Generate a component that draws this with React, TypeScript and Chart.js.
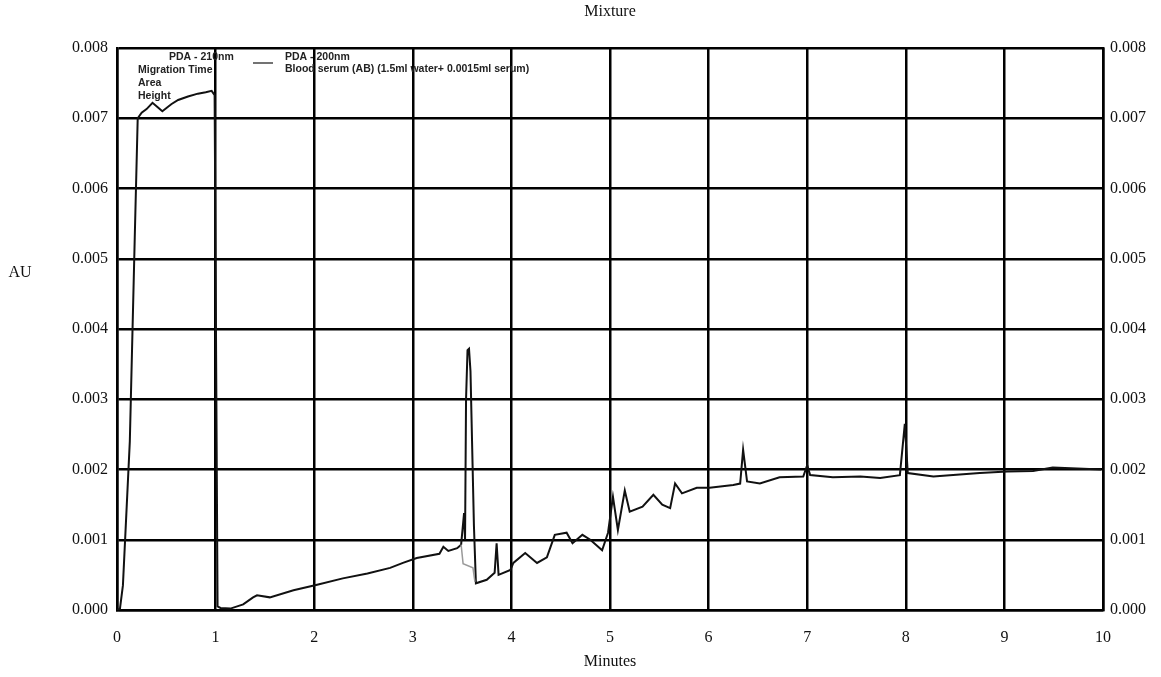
import React, { useEffect, useRef } from "react";
import { Chart, registerables } from "chart.js";

Chart.register(...registerables);

const minutes: number[] = [
  0.0, 0.03, 0.06, 0.13, 0.18, 0.21, 0.25, 0.3, 0.36, 0.41, 0.46, 0.55, 0.62, 0.72, 0.82, 0.9, 0.96, 0.99,
  1.02, 1.05, 1.15, 1.28, 1.38, 1.42, 1.55, 1.79, 2.03, 2.29, 2.54, 2.77, 2.9, 3.04, 3.27, 3.31, 3.36, 3.45,
  3.49, 3.52, 3.53, 3.54, 3.555, 3.57, 3.585, 3.62, 3.64, 3.75, 3.83, 3.85, 3.87, 3.99, 4.02, 4.14, 4.26, 4.36,
  4.44, 4.56, 4.62, 4.72, 4.8, 4.92, 4.98, 5.03, 5.08, 5.15, 5.2, 5.33, 5.44, 5.53, 5.61, 5.66, 5.73, 5.88,
  6.01, 6.25, 6.32, 6.35, 6.39, 6.52, 6.72, 6.96, 7.0, 7.03, 7.26, 7.54, 7.74, 7.94, 7.99, 8.02, 8.28, 8.48,
  8.75, 9.03, 9.29, 9.49, 9.8, 9.98,
];

const absorbance: number[] = [
  0.0, 0.00002, 0.00035, 0.0024, 0.0053, 0.007, 0.00708, 0.00713, 0.00722, 0.00716, 0.0071, 0.0072, 0.00726,
  0.00731, 0.00735, 0.00737, 0.00739, 0.00733, 0.00005, 0.00003, 0.00002, 0.00008, 0.00018, 0.00021, 0.00018,
  0.00028, 0.00036, 0.00045, 0.00052, 0.0006, 0.00067, 0.00074, 0.0008, 0.0009, 0.00084, 0.00088, 0.00093,
  0.00138, 0.001, 0.003, 0.0037, 0.00372, 0.0034, 0.0012, 0.00038, 0.00043, 0.00053, 0.00095, 0.0005, 0.00057,
  0.00067, 0.00081, 0.00067, 0.00075, 0.00107, 0.0011, 0.00095, 0.00107, 0.001, 0.00085, 0.0011, 0.00161,
  0.00114, 0.0017, 0.0014, 0.00147, 0.00164, 0.0015, 0.00145, 0.0018, 0.00166, 0.00174, 0.00174, 0.00178,
  0.0018, 0.00228, 0.00183, 0.0018, 0.00189, 0.0019, 0.00206, 0.00192, 0.00189, 0.0019, 0.00188, 0.00192,
  0.00265, 0.00195, 0.0019, 0.00192, 0.00195, 0.00197, 0.00198, 0.00203, 0.00201, 0.002,
];

const traceMinutes: number[] = [3.49, 3.51, 3.61, 3.63];
const traceAbsorbance: number[] = [0.00093, 0.00066, 0.0006, 0.0004];

const xTicks: number[] = [0, 1, 2, 3, 4, 5, 6, 7, 8, 9, 10];
const yTicks: number[] = [0, 0.001, 0.002, 0.003, 0.004, 0.005, 0.006, 0.007, 0.008];

const titleText = "Mixture";
const xTitle = "Minutes";
const yTitle = "AU";
const legendLeft: string[] = ["PDA - 210nm", "Migration Time", "Area", "Height"];
const legendRight: string[] = ["PDA - 200nm", "Blood serum (AB) (1.5ml water+ 0.0015ml serum)"];

const SERIF = '"Liberation Serif", "DejaVu Serif", serif';

export default function App() {
  const ref = useRef<HTMLCanvasElement | null>(null);

  useEffect(() => {
    if (!ref.current) return;
    const textPlugin = {
      id: "texts",
      afterDraw(chart: any) {
        const ctx = chart.ctx;
        const a = chart.chartArea;
        ctx.save();
        ctx.fillStyle = "#111";
        ctx.font = `16px ${SERIF}`;
        ctx.textAlign = "center";
        ctx.textBaseline = "middle";
        ctx.fillText(titleText, (a.left + a.right) / 2, 12);
        ctx.fillText(xTitle, (a.left + a.right) / 2, 662);
        ctx.fillText(yTitle, 20, 273);
        // in-plot annotation (from the instrument printout)
        ctx.font = 'bold 10.5px "Liberation Sans", Arial, sans-serif';
        ctx.textAlign = "left";
        ctx.fillStyle = "#222";
        ctx.fillText(legendLeft[0], a.left + 52, a.top + 9);
        ctx.fillText(legendLeft[1], a.left + 21, a.top + 22);
        ctx.fillText(legendLeft[2], a.left + 21, a.top + 35);
        ctx.fillText(legendLeft[3], a.left + 21, a.top + 48);
        ctx.strokeStyle = "#444";
        ctx.lineWidth = 1.5;
        ctx.beginPath();
        ctx.moveTo(a.left + 136, a.top + 15);
        ctx.lineTo(a.left + 156, a.top + 15);
        ctx.stroke();
        ctx.fillText(legendRight[0], a.left + 168, a.top + 9);
        ctx.fillText(legendRight[1], a.left + 168, a.top + 21);
        ctx.restore();
      },
    };

    const chart = new Chart(ref.current, {
      type: "line",
      data: {
        datasets: [
          {
            data: traceMinutes.map((x, i) => ({ x, y: traceAbsorbance[i] })),
            borderColor: "#9a9a9a",
            borderWidth: 1.5,
            pointRadius: 0,
            tension: 0,
          },
          {
            data: minutes.map((x, i) => ({ x, y: absorbance[i] })),
            borderColor: "#111",
            borderWidth: 2,
            pointRadius: 0,
            tension: 0,
          },
        ],
      },
      options: {
        responsive: false,
        animation: false,
        layout: { padding: { top: 48, left: 0, right: 0, bottom: 0 } },
        plugins: { legend: { display: false }, tooltip: { enabled: false }, title: { display: false } },
        scales: {
          x: {
            type: "linear",
            min: 0,
            max: 10,
            afterBuildTicks: (s: any) => {
              s.ticks = xTicks.map((v) => ({ value: v }));
            },
            afterFit: (s: any) => {
              s.height = 67;
            },
            grid: { color: "#000", lineWidth: 2.5, drawTicks: false },
            border: { color: "#000", width: 2.5 },
            ticks: { color: "#111", padding: 18, font: { family: SERIF, size: 16 } },
          },
          y: {
            type: "linear",
            position: "left",
            min: 0,
            max: 0.008,
            afterBuildTicks: (s: any) => {
              s.ticks = yTicks.map((v) => ({ value: v }));
            },
            afterFit: (s: any) => {
              s.width = 117;
            },
            grid: { color: "#000", lineWidth: 2.5, drawTicks: false },
            border: { color: "#000", width: 2.5 },
            ticks: {
              color: "#111",
              padding: 9,
              font: { family: SERIF, size: 16 },
              callback: (v: any) => Number(v).toFixed(3),
            },
          },
          y2: {
            type: "linear",
            position: "right",
            min: 0,
            max: 0.008,
            afterBuildTicks: (s: any) => {
              s.ticks = yTicks.map((v) => ({ value: v }));
            },
            afterFit: (s: any) => {
              s.width = 58;
            },
            grid: { display: false, drawTicks: false },
            border: { color: "#000", width: 2.5 },
            ticks: {
              color: "#111",
              padding: 7,
              font: { family: SERIF, size: 16 },
              callback: (v: any) => Number(v).toFixed(3),
            },
          },
        },
      },
      plugins: [textPlugin],
    } as any);
    return () => chart.destroy();
  }, []);

  return (
    <div style={{ position: "absolute", left: 0, top: 0, width: 1161, height: 677, background: "#fff" }}>
      <canvas ref={ref} width={1161} height={677} style={{ display: "block" }} />
    </div>
  );
}
